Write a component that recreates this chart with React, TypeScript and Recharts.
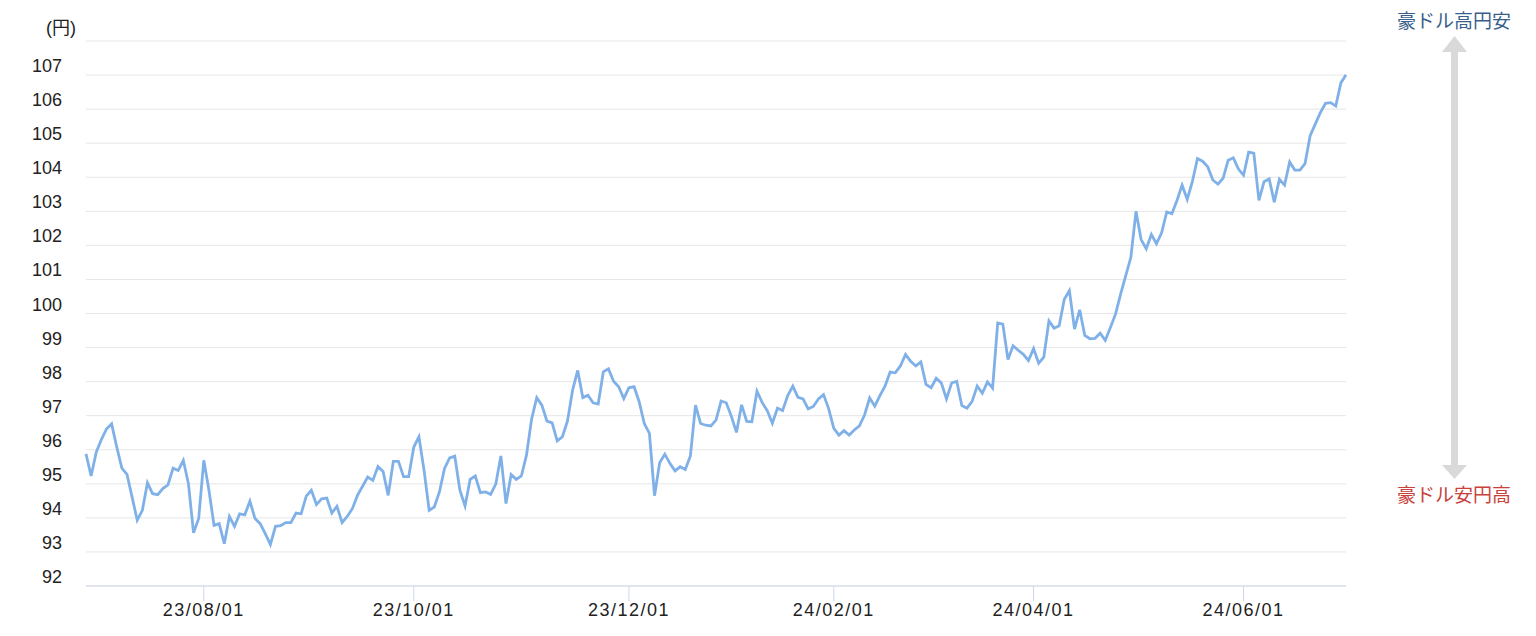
import { LineChart, Line, XAxis, YAxis, CartesianGrid } from "recharts"

// AUD/JPY daily closes (one value per trading day)
const values = [
  95.88, 95.23, 95.93, 96.3, 96.61, 96.76, 96.08, 95.46, 95.28, 94.61,
  93.93, 94.22, 95.03, 94.71, 94.68, 94.86, 94.97, 95.46, 95.39, 95.69,
  95.0, 93.56, 93.98, 95.69, 94.81, 93.78, 93.83, 93.24, 94.04, 93.75,
  94.12, 94.09, 94.49, 93.98, 93.83, 93.54, 93.22, 93.75, 93.77, 93.86,
  93.86, 94.14, 94.12, 94.64, 94.81, 94.39, 94.56, 94.58, 94.14, 94.34,
  93.86, 94.04, 94.27, 94.66, 94.93, 95.2, 95.1, 95.51, 95.36, 94.66,
  95.66, 95.66, 95.21, 95.21, 96.08, 96.38, 95.4, 94.22, 94.32, 94.76,
  95.45, 95.76, 95.81, 94.81, 94.35, 95.13, 95.23, 94.74, 94.76, 94.69,
  94.99, 95.82, 94.42, 95.27, 95.13, 95.23, 95.84, 96.9, 97.53, 97.31,
  96.84, 96.79, 96.26, 96.38, 96.84, 97.75, 98.33, 97.53, 97.6, 97.38,
  97.34, 98.29, 98.38, 98.01, 97.85, 97.5, 97.82, 97.85, 97.41, 96.77,
  96.48, 94.65, 95.62, 95.87, 95.6, 95.38, 95.5, 95.42, 95.82, 97.31,
  96.77, 96.72, 96.7, 96.87, 97.43, 97.38, 96.98, 96.51, 97.32, 96.83,
  96.82, 97.72, 97.39, 97.15, 96.78, 97.22, 97.15, 97.59, 97.87, 97.54,
  97.49, 97.2, 97.27, 97.49, 97.62, 97.2, 96.63, 96.43, 96.56, 96.43,
  96.58, 96.7, 97.02, 97.52, 97.28, 97.59, 97.87, 98.28, 98.26, 98.46,
  98.8, 98.6, 98.46, 98.58, 97.92, 97.82, 98.1, 97.96, 97.49, 97.96,
  98.01, 97.3, 97.22, 97.42, 97.87, 97.66, 97.99, 97.81, 99.72, 99.69,
  98.65, 99.05, 98.92, 98.8, 98.62, 98.97, 98.54, 98.72, 99.78, 99.57,
  99.64, 100.42, 100.67, 99.54, 100.11, 99.36, 99.26, 99.27, 99.42, 99.21,
  99.59, 99.98, 100.57, 101.11, 101.65, 103.0, 102.17, 101.9, 102.32, 102.05,
  102.37, 102.98, 102.93, 103.32, 103.77, 103.35, 103.87, 104.55, 104.47, 104.31,
  103.92, 103.8, 103.97, 104.5, 104.57, 104.24, 104.06, 104.74, 104.71, 103.32,
  103.87, 103.95, 103.27, 103.94, 103.77, 104.45, 104.21, 104.21, 104.4, 105.22,
  105.56, 105.9, 106.17, 106.19, 106.09, 106.77, 107.01,
]

// index of the trading day under each date label
const tickIndex = [23, 64, 106, 146, 185, 226]
const tickLabels = ["23/08/01", "23/10/01", "23/12/01", "24/02/01", "24/04/01", "24/06/01"]

const yTicks = [92, 93, 94, 95, 96, 97, 98, 99, 100, 101, 102, 103, 104, 105, 106, 107, 108]

const data = values.map((v, i) => ({ i, v }))

const FONT = '"Liberation Sans", "Noto Sans CJK JP", sans-serif'

function YTick({ y, payload }: any) {
  if (payload.value === 108) {
    return (
      <text x={68} y={y - 13} textAnchor="end" dominantBaseline="central" fontSize={18} fill="#222" fontFamily={FONT}>
        (円)
      </text>
    )
  }
  return (
    <text x={54} y={y - 9} textAnchor="end" dominantBaseline="central" fontSize={18} fill="#222" fontFamily={FONT}>
      {payload.value}
    </text>
  )
}

function XTick({ x, y, payload }: any) {
  const label = tickLabels[tickIndex.indexOf(payload.value)]
  return (
    <text x={x} y={y} dy="0.71em" textAnchor="middle" fontSize={18} fill="#222" fontFamily={FONT} letterSpacing={1.5}>
      {label}
    </text>
  )
}

export default function App() {
  return (
    <div style={{ position: "relative", width: 1520, height: 620 }}>
      <LineChart width={1520} height={620} data={data} margin={{ top: 33, right: 182, bottom: 0, left: 0 }}>
        <CartesianGrid vertical={false} stroke="#e6e6e6" />
        <XAxis
          type="number"
          dataKey="i"
          domain={[0, values.length - 1]}
          ticks={tickIndex}
          interval={0}
          height={42}
          tickSize={15}
          tickMargin={2}
          axisLine={{ stroke: "#ccd6eb" }}
          tickLine={{ stroke: "#ccd6eb" }}
          tick={<XTick />}
        />
        <YAxis
          type="number"
          domain={[92, 108]}
          ticks={yTicks}
          interval={0}
          width={78}
          axisLine={false}
          tickLine={false}
          tick={<YTick />}
        />
        <Line type="linear" dataKey="v" stroke="#7fb1e8" strokeWidth={2.8} dot={false} isAnimationActive={false} />
      </LineChart>

      {/* direction note on the right */}
      <svg width={1520} height={620} style={{ position: "absolute", left: 0, top: 0, pointerEvents: "none" }}>
        <rect x={1443} y={43} width={7} height={415} fill="#d9d9d9" />
        <polygon points="1434,44 1446.5,28 1459,44" fill="#d9d9d9" />
        <polygon points="1434,457 1446.5,471 1459,457" fill="#d9d9d9" />
        <text x={1446} y={13} textAnchor="middle" dominantBaseline="central" fontSize={19} fill="#3a5f8c" fontFamily={FONT}>
          豪ドル高円安
        </text>
        <text x={1446} y={487} textAnchor="middle" dominantBaseline="central" fontSize={19} fill="#c8413a" fontFamily={FONT}>
          豪ドル安円高
        </text>
      </svg>
    </div>
  )
}
